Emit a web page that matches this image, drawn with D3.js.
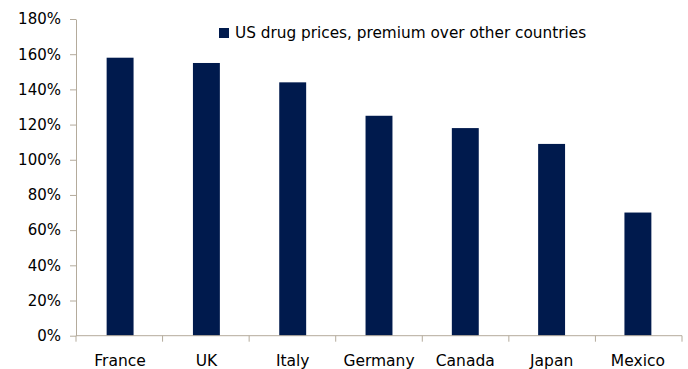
<!DOCTYPE html>
<html><head><meta charset="utf-8">
<script src="https://cdn.jsdelivr.net/npm/d3@7"></script>
<style>body{margin:0;background:#fff}svg{display:block}text{font-family:"DejaVu Sans",sans-serif;fill:#000}</style>
</head><body><svg id="c" width="688" height="369"></svg>
<script>
const categories = ["France","UK","Italy","Germany","Canada","Japan","Mexico"];
const values = [158,155,144,125,118,109,70];
const yTicks = [0,20,40,60,80,100,120,140,160,180];
const seriesName = "US drug prices, premium over other countries";

const svg = d3.select("#c");
const m = {l:76, r:6, t:19, b:33.3};
const W = 688, H = 369;
const x = d3.scaleBand().domain(categories).range([m.l, W - m.r]).paddingInner(0.688).paddingOuter(0.355);
const y = d3.scaleLinear().domain([0,180]).range([H - m.b, m.t]);
const axisColor = "#b4ab9c";

svg.selectAll("rect.bar").data(values).join("rect").attr("class","bar")
  .attr("x",(d,i)=>x(categories[i])).attr("width",x.bandwidth())
  .attr("y",d=>y(d)).attr("height",d=>y(0)-y(d)).attr("fill","#001a4d");

const ya = svg.append("g").attr("transform",`translate(${m.l},0)`)
  .call(d3.axisLeft(y).tickValues(yTicks).tickFormat(d=>d+"%").tickSize(6).tickSizeOuter(0));
ya.select(".domain").attr("stroke",axisColor);
ya.selectAll(".tick line").attr("stroke",axisColor);
ya.selectAll(".tick text").attr("x",-15).style("font-size","15px");

const xa = svg.append("g").attr("transform",`translate(0,${y(0)})`);
xa.append("line").attr("x1",m.l).attr("x2",W-m.r).attr("y1",0).attr("y2",0).attr("stroke",axisColor);
const bounds = d3.range(categories.length+1).map(i=>m.l + i*(W-m.l-m.r)/categories.length);
xa.selectAll("line.t").data(bounds).join("line").attr("class","t")
  .attr("x1",d=>d).attr("x2",d=>d).attr("y1",0).attr("y2",6).attr("stroke",axisColor);
xa.selectAll("text").data(categories).join("text")
  .attr("x",d=>x(d)+x.bandwidth()/2).attr("y",30).attr("text-anchor","middle")
  .style("font-size","15.5px").text(d=>d);

const lg = svg.append("g");
lg.append("rect").attr("x",219).attr("y",28).attr("width",10).attr("height",10).attr("fill","#001a4d");
lg.append("text").attr("x",235).attr("y",38).style("font-size","15.3px").text(seriesName);
</script></body></html>
